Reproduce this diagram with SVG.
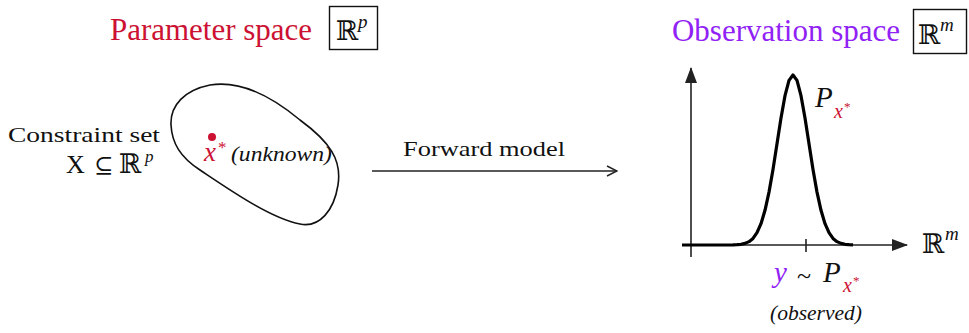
<svg xmlns="http://www.w3.org/2000/svg" width="969" height="333" viewBox="0 0 969 333" font-family="'Liberation Serif', 'DejaVu Serif', serif">
  <style>
    text { font-family: 'Liberation Serif', 'Times New Roman', serif; fill: #111; }
    text.math { font-family: 'DejaVu Serif', serif; }
    .it { font-style: italic; }
    .red { fill: #cc1133; }
    .purple { fill: #9122f5; }
    .title { font-size: 31px; }
    .lbl { font-size: 22px; }
    .box { fill: none; stroke: #111; stroke-width: 1.4; }
    .axis { stroke: #222; stroke-width: 1.6; fill: none; }
  </style>
  <defs>
    <marker id="open-head" viewBox="0 0 12 12" refX="11" refY="6" markerWidth="12" markerHeight="12" markerUnits="userSpaceOnUse" orient="auto">
      <path d="M1,1 L11,6 L1,11" fill="none" stroke="#222" stroke-width="1.5"/>
    </marker>
    <marker id="solid-head" viewBox="0 0 16 14" refX="15" refY="7" markerWidth="16" markerHeight="14" markerUnits="userSpaceOnUse" orient="auto">
      <path d="M0,1 L16,7 L0,13 Z" fill="#222"/>
    </marker>
  </defs>

  <!-- parameter space header -->
  <g id="param-title">
    <text class="red title" x="110" y="40" textLength="202" lengthAdjust="spacingAndGlyphs">Parameter space</text>
    <rect class="box" x="329.5" y="6.5" width="48" height="43"/>
    <text class="math" x="336" y="40" font-size="27">ℝ</text>
    <text class="it" x="358" y="28" font-size="19">p</text>
  </g>

  <!-- observation space header -->
  <g id="obs-title">
    <text class="purple title" x="672" y="41" textLength="228" lengthAdjust="spacingAndGlyphs">Observation space</text>
    <rect class="box" x="913.5" y="9.5" width="53" height="44"/>
    <text class="math" x="918" y="44" font-size="27">ℝ</text>
    <text class="it" x="940" y="31" font-size="19">m</text>
  </g>

  <!-- constraint set label -->
  <g id="constraint-label">
    <text class="lbl" x="8" y="142" textLength="152" lengthAdjust="spacingAndGlyphs">Constraint set</text>
    <text x="66" y="173" font-size="26">X</text>
    <text class="math" x="94" y="173" font-size="23">⊆</text>
    <text class="math" x="119" y="173" font-size="27">ℝ</text>
    <text class="it" x="145" y="162" font-size="17">p</text>
  </g>

  <!-- constraint set region with the unknown parameter -->
  <g id="constraint-set">
    <path d="M171,125 C170,105 185,90 210,85 C240,80 270,95 300,120 C330,142 342,160 338,185 C334,210 320,228 300,224 C270,218 230,190 200,170 C180,157 172,143 171,125 Z" fill="none" stroke="#111" stroke-width="1.6"/>
    <circle cx="212" cy="137" r="4" fill="#cc1133"/>
    <text class="it red" x="204" y="161" font-size="27">x</text>
    <text class="red" x="218" y="153" font-size="17">*</text>
    <text class="it" x="231" y="161" font-size="21" textLength="101" lengthAdjust="spacingAndGlyphs">(unknown)</text>
  </g>

  <!-- forward model connector -->
  <g id="connectors">
    <line x1="372" y1="171" x2="617" y2="171" stroke="#222" stroke-width="1.6" marker-end="url(#open-head)"/>
    <text class="lbl" x="403" y="156" textLength="162" lengthAdjust="spacingAndGlyphs">Forward model</text>
  </g>

  <!-- observation density plot -->
  <g id="density-plot">
    <line class="axis" x1="691" y1="257" x2="691" y2="68" marker-end="url(#solid-head)"/>
    <line class="axis" x1="682" y1="245" x2="907" y2="245" marker-end="url(#solid-head)"/>
    <line class="axis" x1="806" y1="239" x2="806" y2="252"/>
    <polyline fill="none" stroke="#000" stroke-width="3.2" stroke-linejoin="round" points="682,245 733,244.9 737,244.7 741,244.3 745,243.4 749,241.65 753,238.4 757,232.7 761,223.7 765,210.3 769,192.1 773,169.5 777,143.8 781,118 785,95.7 789,80.4 793,75 797,80.4 801,95.7 805,118 809,143.8 813,169.5 817,192.1 821,210.3 825,223.7 829,232.7 833,238.4 837,241.65 841,243.4 845,244.3 849,244.7 853,244.9"/>
    <text class="it" x="815" y="107" font-size="29">P</text>
    <text class="it red" x="834" y="118" font-size="20">x</text>
    <text class="red" x="844" y="111" font-size="13">*</text>
    <text class="math" x="922" y="253" font-size="27">ℝ</text>
    <text class="it" x="945" y="240" font-size="19">m</text>
  </g>

  <!-- observed sample -->
  <g id="observation">
    <text class="it purple" x="774" y="282" font-size="29">y</text>
    <text x="797" y="284" font-size="26">~</text>
    <text class="it" x="823" y="282" font-size="29">P</text>
    <text class="it red" x="843" y="292" font-size="20">x</text>
    <text class="red" x="853" y="285" font-size="13">*</text>
    <text class="it" x="770" y="320" font-size="22" textLength="92" lengthAdjust="spacingAndGlyphs">(observed)</text>
  </g>
</svg>
